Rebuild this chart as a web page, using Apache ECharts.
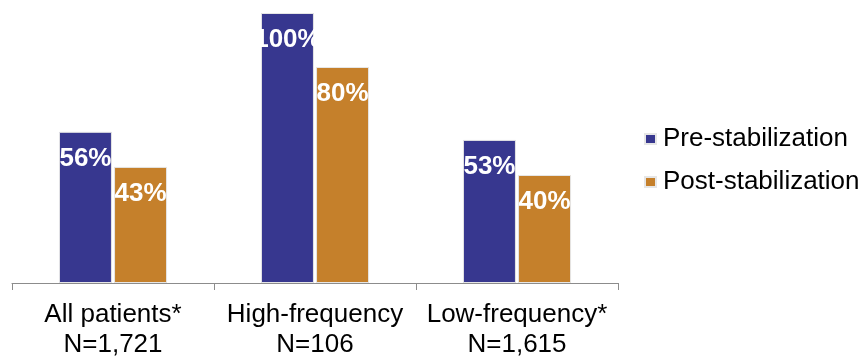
<!DOCTYPE html>
<html><head><meta charset="utf-8">
<script src="https://cdn.jsdelivr.net/npm/echarts@6/dist/echarts.min.js"></script>
<style>html,body{margin:0;padding:0;background:#fff}#c{width:860px;height:360px}</style>
</head><body><div id="c"></div>
<script>
const categories = ["All patients*\nN=1,721", "High-frequency\nN=106", "Low-frequency*\nN=1,615"];
const preValues = [56, 100, 53];
const postValues = [43, 80, 40];
const seriesNames = ["Pre-stabilization", "Post-stabilization"];

const FONT = '"Liberation Sans", Arial, sans-serif';
const chart = echarts.init(document.getElementById('c'));
const labelCfg = {
  show: true, position: 'insideTop', distance: 14,
  formatter: '{c}%', color: '#fff', fontWeight: 'bold', fontSize: 26, fontFamily: FONT
};
chart.setOption({
  animation: false,
  grid: { left: 12, right: 242, top: 13, bottom: 76, containLabel: false },
  legend: {
    orient: 'vertical', left: 639, top: 121, itemWidth: 11, itemHeight: 10, itemGap: 17,
    icon: 'rect',
    textStyle: { fontSize: 26, fontFamily: FONT, color: '#000', padding: [0,0,0,2] },
    data: seriesNames
  },
  xAxis: {
    type: 'category', data: categories,
    axisLine: { lineStyle: { color: '#8c8c8c', width: 1 } },
    axisTick: { show: true, length: 7, lineStyle: { color: '#8c8c8c' } },
    axisLabel: { color: '#000', fontSize: 26, fontFamily: FONT, lineHeight: 30, margin: 17, interval: 0 }
  },
  yAxis: { type: 'value', min: 0, max: 100, show: false, splitLine: { show: false } },
  series: [
    { name: seriesNames[0], type: 'bar', data: preValues, barWidth: 53, barGap: '4%',
      itemStyle: { color: '#37378f', borderColor: '#e6e6e6', borderWidth: 1 }, label: labelCfg },
    { name: seriesNames[1], type: 'bar', data: postValues, barWidth: 53,
      itemStyle: { color: '#c5802b', borderColor: '#e6e6e6', borderWidth: 1 }, label: labelCfg }
  ]
});
</script></body></html>
